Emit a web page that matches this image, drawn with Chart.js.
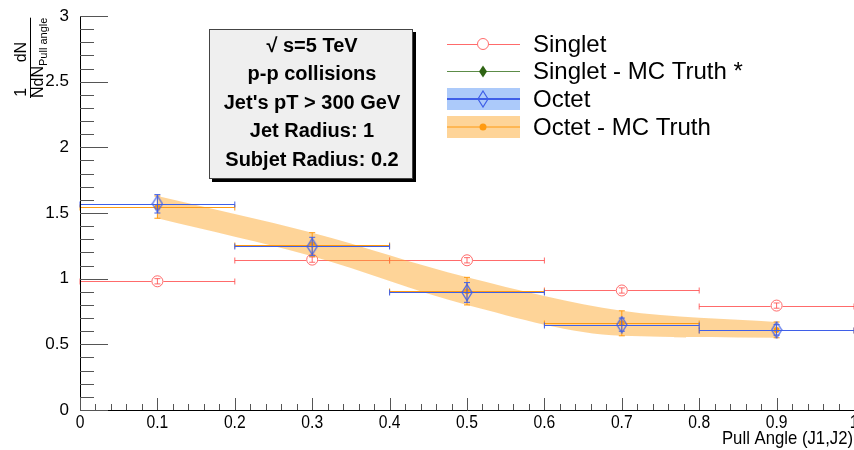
<!DOCTYPE html>
<html>
<head>
<meta charset="utf-8">
<script src="https://cdn.jsdelivr.net/npm/chart.js@4.4.1/dist/chart.umd.min.js"></script>
<style>
    html, body { margin: 0; padding: 0; background: #fff; }
    canvas { display: block; }
</style>
</head>
<body>
<canvas id="pull-chart" width="854" height="450"></canvas>
<script>
// ── Data ──────────────────────────────────────────
const binCenters     = [0.1, 0.3, 0.5, 0.7, 0.9];
const binHalfWidths  = [0.1, 0.1, 0.1, 0.1, 0.1];

const singletValues  = [0.98, 1.145, 1.14, 0.91, 0.795];
const singletErrors  = [0.02, 0.02, 0.02, 0.02, 0.02];

const singletMcValues = [];   // listed in the legend, not drawn

const octetValues    = [1.57, 1.245, 0.895, 0.65, 0.61];
const octetErrors    = [0.07, 0.07, 0.075, 0.05, 0.04];

const octetMcValues  = [1.545, 1.26, 0.905, 0.66, 0.61];
const octetMcErrors  = [0.085, 0.09, 0.105, 0.095, 0.06];

const xTickValues = [0, 0.1, 0.2, 0.3, 0.4, 0.5, 0.6, 0.7, 0.8, 0.9, 1];
const yTickValues = [0, 0.5, 1, 1.5, 2, 2.5, 3];

const legendLabels = ['Singlet', 'Singlet - MC Truth *', 'Octet', 'Octet - MC Truth'];
const infoLines = ['\u221A s=5 TeV', 'p-p collisions', "Jet's pT > 300 GeV", 'Jet Radius: 1', 'Subjet Radius: 0.2'];

// ── Styling ───────────────────────────────────────
const COLORS = {
    red: 'rgba(255, 70, 70, 0.8)',
    green: '#2f6414',
    greenLine: '#5c8c48',
    blue: '#3f5fe8',
    blueBand: 'rgba(90, 150, 245, 0.5)',
    orange: '#ff9a10',
    orangeBand: 'rgba(252, 165, 40, 0.48)'
};
const SANS = "'Liberation Sans', Arial, sans-serif";

// tall open diamond used for the octet marker
function makeDiamond(w, h, stroke, fill) {
    const c = document.createElement('canvas');
    c.width = w + 2; c.height = h + 2;
    const g = c.getContext('2d');
    g.beginPath();
    g.moveTo(c.width / 2, 1);
    g.lineTo(c.width - 1, c.height / 2);
    g.lineTo(c.width / 2, c.height - 1);
    g.lineTo(1, c.height / 2);
    g.closePath();
    if (fill) { g.fillStyle = fill; g.fill(); }
    g.strokeStyle = stroke;
    g.lineWidth = 1.2;
    g.stroke();
    return c;
}
const octetMarker = makeDiamond(10, 16, COLORS.blue, null);

const toPoints = (vals, shift) => vals.map((v, i) => ({ x: binCenters[i], y: v + (shift ? shift[i] : 0) }));
const neg = arr => arr.map(v => -v);
const fmt = v => String(+v.toFixed(1));

// error bars per dataset label
const ERRORS = {
    'Singlet': { y: singletValues, ey: singletErrors, color: COLORS.red, gap: 6 },
    'Octet - MC Truth': { y: octetMcValues, ey: octetMcErrors, color: COLORS.orange, gap: 0 },
    'Octet': { y: octetValues, ey: octetErrors, color: COLORS.blue, gap: 0 }
};

// condensed text, like the narrow Helvetica of the original
function narrowText(ctx, text, x, y, squeeze) {
    ctx.save();
    ctx.translate(x, y);
    ctx.scale(squeeze, 1);
    ctx.fillText(text, 0, 0);
    ctx.restore();
}

// ── Plugins ───────────────────────────────────────
const errorBarPlugin = {
    id: 'errorBars',
    beforeDatasetDraw(chart, args) {
        const cfg = ERRORS[chart.data.datasets[args.index].label];
        if (!cfg) return;
        const { ctx, scales: { x, y } } = chart;
        const cap = 3;
        ctx.save();
        ctx.strokeStyle = cfg.color;
        ctx.lineWidth = 1;
        ctx.beginPath();
        binCenters.forEach((xv, i) => {
            const px = x.getPixelForValue(xv);
            const py = Math.round(y.getPixelForValue(cfg.y[i])) + 0.5;
            const x0 = x.getPixelForValue(xv - binHalfWidths[i]);
            const x1 = x.getPixelForValue(xv + binHalfWidths[i]);
            const y0 = y.getPixelForValue(cfg.y[i] - cfg.ey[i]);
            const y1 = y.getPixelForValue(cfg.y[i] + cfg.ey[i]);
            ctx.moveTo(x0, py); ctx.lineTo(px - cfg.gap, py);
            ctx.moveTo(px + cfg.gap, py); ctx.lineTo(x1, py);
            ctx.moveTo(x0, py - cap); ctx.lineTo(x0, py + cap);
            ctx.moveTo(x1, py - cap); ctx.lineTo(x1, py + cap);
            ctx.moveTo(px, y0); ctx.lineTo(px, y1);
            ctx.moveTo(px - cap, y0); ctx.lineTo(px + cap, y0);
            ctx.moveTo(px - cap, y1); ctx.lineTo(px + cap, y1);
        });
        ctx.stroke();
        ctx.restore();
    }
};

const framePlugin = {
    id: 'rootFrame',
    afterDatasetsDraw(chart) {
        const { ctx, chartArea: a, scales: { x, y } } = chart;
        ctx.save();
        ctx.strokeStyle = '#000';
        ctx.lineWidth = 1;
        ctx.beginPath();
        // axis lines
        ctx.moveTo(a.left + 0.5, a.top); ctx.lineTo(a.left + 0.5, a.bottom + 0.5);
        ctx.lineTo(a.right, a.bottom + 0.5);
        ctx.stroke();

        // inner ticks
        ctx.strokeStyle = '#555';
        ctx.beginPath();
        for (let k = 0; k <= 30; k++) {
            const py = Math.round(y.getPixelForValue(k / 10)) + 0.5;
            const len = k % 5 === 0 ? 28 : 14;
            ctx.moveTo(a.left, py); ctx.lineTo(a.left + len, py);
        }
        for (let k = 0; k <= 50; k++) {
            const px = Math.round(x.getPixelForValue(k / 50)) + 0.5;
            const len = k % 5 === 0 ? 12 : 6;
            ctx.moveTo(px, a.bottom); ctx.lineTo(px, a.bottom - len);
        }
        ctx.stroke();

        // x tick labels (condensed)
        ctx.fillStyle = '#000';
        ctx.font = '18px ' + SANS;
        ctx.textAlign = 'center';
        ctx.textBaseline = 'top';
        xTickValues.forEach(v => narrowText(ctx, fmt(v), x.getPixelForValue(v), a.bottom + 4, 0.87));

        // axis titles
        ctx.font = '19px ' + SANS;
        ctx.textAlign = 'right';
        ctx.textBaseline = 'alphabetic';
        narrowText(ctx, 'Pull Angle (J1,J2)', 853, 444, 0.88);

        ctx.save();
        ctx.rotate(-Math.PI / 2);
        ctx.textAlign = 'left';
        ctx.font = '16px ' + SANS;
        ctx.fillText('NdN', -98, 43);
        const nW = ctx.measureText('N').width;
        const ndnW = ctx.measureText('NdN').width;
        ctx.font = '11px ' + SANS;
        ctx.fillText('Pull angle', -98 + ndnW, 47);
        const subW = ctx.measureText('Pull angle').width;
        ctx.font = '16px ' + SANS;
        ctx.textAlign = 'center';
        ctx.fillText('1', -98 + nW / 2, 26);
        ctx.fillText('dN', -98 + nW + (ndnW - nW + subW) / 2, 26);
        ctx.fillRect(-98, 30, ndnW + subW, 1);
        ctx.restore();

        // info box with drop shadow
        const bx = 209, by = 29, bw = 204, bh = 150;
        ctx.fillStyle = '#000';
        ctx.fillRect(bx + 3, by + 3, bw, bh);
        ctx.fillStyle = '#efefef';
        ctx.fillRect(bx, by, bw, bh);
        ctx.strokeStyle = '#444';
        ctx.strokeRect(bx + 0.5, by + 0.5, bw - 1, bh - 1);
        ctx.fillStyle = '#000';
        ctx.font = 'bold 20px ' + SANS;
        ctx.textAlign = 'center';
        ctx.textBaseline = 'middle';
        infoLines.forEach((t, i) => ctx.fillText(t, bx + bw / 2 + 1, 46 + i * 28.6));

        // legend
        const rows = [44, 71.5, 99, 127];
        const sx0 = 447, sx1 = 520, sc = 483;
        ctx.textAlign = 'left';
        ctx.font = '24px ' + SANS;
        rows.forEach((ry, i) => {
            if (i === 2) { ctx.fillStyle = COLORS.blueBand; ctx.fillRect(sx0, ry - 11, sx1 - sx0, 22); }
            if (i === 3) { ctx.fillStyle = COLORS.orangeBand; ctx.fillRect(sx0, ry - 11, sx1 - sx0, 22); }
            const lineColor = [COLORS.red, COLORS.greenLine, COLORS.blue, COLORS.orange][i];
            ctx.strokeStyle = lineColor;
            ctx.lineWidth = i === 2 ? 2 : 1;
            ctx.beginPath();
            if (i === 0) {
                ctx.moveTo(sx0, ry + 0.5); ctx.lineTo(sc - 6, ry + 0.5);
                ctx.moveTo(sc + 6, ry + 0.5); ctx.lineTo(sx1, ry + 0.5);
            } else {
                ctx.moveTo(sx0, ry); ctx.lineTo(sx1, ry);
            }
            ctx.stroke();
            ctx.lineWidth = 1;
            if (i === 0) {
                ctx.beginPath(); ctx.arc(sc, ry, 5.5, 0, Math.PI * 2); ctx.stroke();
            } else if (i === 1) {
                ctx.fillStyle = COLORS.green;
                ctx.beginPath();
                ctx.moveTo(sc, ry - 6); ctx.lineTo(sc + 4, ry); ctx.lineTo(sc, ry + 6); ctx.lineTo(sc - 4, ry);
                ctx.closePath(); ctx.fill();
            } else if (i === 2) {
                ctx.drawImage(octetMarker, sc - octetMarker.width / 2, ry - octetMarker.height / 2);
            } else {
                ctx.fillStyle = COLORS.orange;
                ctx.beginPath(); ctx.arc(sc, ry, 3.5, 0, Math.PI * 2); ctx.fill();
            }
            ctx.fillStyle = '#000';
            ctx.textBaseline = 'middle';
            ctx.fillText(legendLabels[i], 533, ry + 1);
        });
        ctx.restore();
    }
};

// ── Chart ─────────────────────────────────────────
new Chart(document.getElementById('pull-chart'), {
    type: 'scatter',
    data: {
        datasets: [
            {
                label: 'Octet',
                data: toPoints(octetValues),
                pointStyle: octetMarker,
                order: 0
            },
            {
                label: 'Octet - MC Truth',
                data: toPoints(octetMcValues),
                pointStyle: 'circle',
                pointRadius: 3,
                backgroundColor: COLORS.orange,
                borderColor: COLORS.orange,
                borderWidth: 0,
                order: 1
            },
            {
                label: 'Singlet - MC Truth *',
                data: toPoints(singletMcValues),
                pointStyle: 'rectRot',
                backgroundColor: COLORS.green,
                order: 2
            },
            {
                label: 'band-high',
                data: toPoints(octetMcValues, octetMcErrors),
                showLine: true,
                pointRadius: 0,
                borderWidth: 0,
                borderColor: 'rgba(0,0,0,0)',
                backgroundColor: COLORS.orangeBand,
                cubicInterpolationMode: 'monotone',
                fill: '+1',
                order: 3
            },
            {
                label: 'band-low',
                data: toPoints(octetMcValues, neg(octetMcErrors)),
                showLine: true,
                pointRadius: 0,
                borderWidth: 0,
                borderColor: 'rgba(0,0,0,0)',
                cubicInterpolationMode: 'monotone',
                fill: false,
                order: 3
            },
            {
                label: 'Singlet',
                data: toPoints(singletValues),
                pointStyle: 'circle',
                pointRadius: 5.5,
                borderWidth: 1,
                borderColor: COLORS.red,
                backgroundColor: 'rgba(0,0,0,0)',
                order: 4
            }
        ]
    },
    options: {
        responsive: false,
        animation: false,
        events: [],
        layout: { autoPadding: false, padding: { top: 16, right: 0, left: 0, bottom: 0 } },
        plugins: {
            legend: { display: false },
            tooltip: { enabled: false }
        },
        scales: {
            x: {
                type: 'linear',
                min: 0,
                max: 1,
                grid: { display: false },
                border: { display: false },
                afterBuildTicks: s => { s.ticks = xTickValues.map(v => ({ value: v })); },
                afterFit: s => { s.height = 40; s.paddingLeft = 0; s.paddingRight = 0; },
                ticks: { display: false }
            },
            y: {
                type: 'linear',
                min: 0,
                max: 3,
                grid: { display: false },
                border: { display: false },
                afterBuildTicks: s => { s.ticks = yTickValues.map(v => ({ value: v })); },
                afterFit: s => { s.width = 80; s.paddingTop = 0; s.paddingBottom = 0; },
                ticks: {
                    autoSkip: false,
                    padding: 3,
                    color: '#000',
                    font: { size: 17, family: SANS },
                    callback: fmt
                }
            }
        }
    },
    plugins: [errorBarPlugin, framePlugin]
});
</script>
</body>
</html>
